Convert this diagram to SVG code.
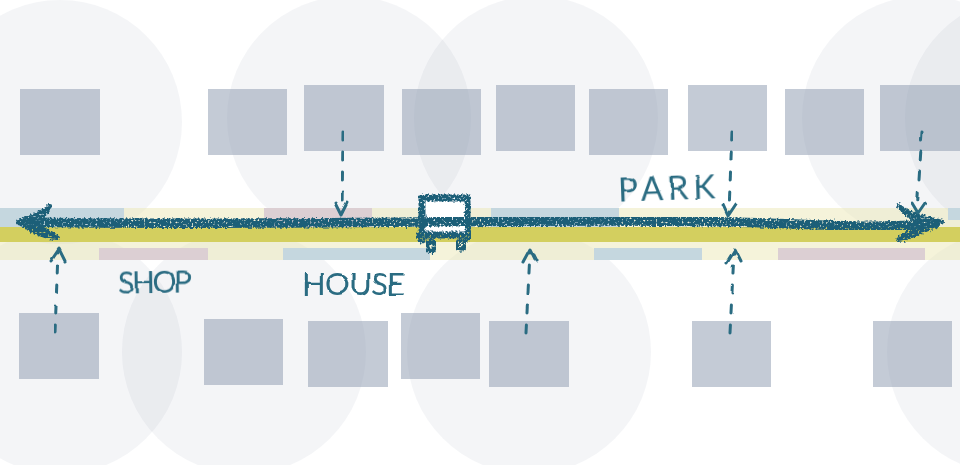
<svg xmlns="http://www.w3.org/2000/svg" width="960" height="465" viewBox="0 0 960 465">
<style>
.zone{fill:#8f9aa8;fill-opacity:.095}
.lot{fill:#8d9bb0;fill-opacity:.52}
.y{fill:#e9e6b0;fill-opacity:.47}
.b{fill:#c5d7df}
.p{fill:#dccfd3}
.crayon{fill:none;stroke:#1f5f78;stroke-linecap:round;stroke-linejoin:round;filter:url(#rough)}
.blade{fill:#1f5f78;stroke:#1f5f78;stroke-width:4;stroke-linejoin:round;filter:url(#rough)}
.dash{fill:none;stroke:#2b6c82;stroke-width:3;stroke-linecap:round;stroke-linejoin:round;filter:url(#wob)}
.lab{font-family:Lato,"Liberation Sans",sans-serif;font-weight:400;fill:#2b6c82;filter:url(#wob)}
</style>
<defs>
<filter id="rough" x="-5%" y="-60%" width="110%" height="220%">
<feTurbulence type="fractalNoise" baseFrequency=".5" numOctaves="3" seed="4" result="n"/>
<feDisplacementMap in="SourceGraphic" in2="n" scale="6" xChannelSelector="R" yChannelSelector="G" result="d"/>
<feColorMatrix in="n" type="matrix" values="0 0 0 0 0 0 0 0 0 0 0 0 0 0 0 0 0 0 6 -1.4" result="m"/>
<feComposite in="d" in2="m" operator="in" result="c"/>
<feGaussianBlur in="c" stdDeviation=".45"/>
</filter>
<filter id="wob" x="-30%" y="-30%" width="160%" height="160%">
<feTurbulence type="fractalNoise" baseFrequency=".07" numOctaves="2" seed="7"/>
<feDisplacementMap in="SourceGraphic" scale="3" xChannelSelector="R" yChannelSelector="G"/>
</filter>
</defs>
<rect width="960" height="465" fill="#fff"/>
<g id="zones">
<circle class="zone" cx="60" cy="122" r="122"/>
<circle class="zone" cx="349" cy="118" r="122"/>
<circle class="zone" cx="536" cy="118" r="122"/>
<circle class="zone" cx="924" cy="118" r="122"/>
<circle class="zone" cx="1027" cy="118" r="122"/>
<circle class="zone" cx="60" cy="352" r="122"/>
<circle class="zone" cx="244" cy="352" r="122"/>
<circle class="zone" cx="529" cy="352" r="122"/>
<circle class="zone" cx="1009" cy="352" r="122"/>
</g>
<g id="street">
<rect class="y" y="208" width="960" height="52"/>
<rect x="0" y="208" width="124" height="19" class="b"/>
<rect x="264" y="208" width="108" height="19" class="p"/>
<rect x="491" y="208" width="128" height="19" class="b"/>
<rect x="948" y="208" width="12" height="12" class="b"/>
<rect x="99" y="248" width="109" height="12" class="p"/>
<rect x="283" y="248" width="147" height="12" class="b"/>
<rect x="594" y="248" width="108" height="12" class="b"/>
<rect x="778" y="248" width="147" height="12" class="p"/>
<rect y="227" width="960" height="15" fill="#d3cf5f"/>
</g>
<g id="lot-top-1"><rect class="lot" x="20" y="89" width="80" height="66"/></g>
<g id="lot-top-2"><rect class="lot" x="208" y="89" width="79" height="66"/></g>
<g id="lot-top-3"><rect class="lot" x="304" y="85" width="80" height="66"/></g>
<g id="lot-top-4"><rect class="lot" x="402" y="89" width="79" height="66"/></g>
<g id="lot-top-5"><rect class="lot" x="496" y="85" width="79" height="66"/></g>
<g id="lot-top-6"><rect class="lot" x="589" y="89" width="79" height="66"/></g>
<g id="lot-top-7"><rect class="lot" x="688" y="85" width="79" height="66"/></g>
<g id="lot-top-8"><rect class="lot" x="785" y="89" width="79" height="66"/></g>
<g id="lot-top-9"><rect class="lot" x="880" y="85" width="80" height="66"/></g>
<g id="lot-bottom-1"><rect class="lot" x="19" y="313" width="80" height="66"/></g>
<g id="lot-bottom-2"><rect class="lot" x="204" y="319" width="79" height="66"/></g>
<g id="lot-bottom-3"><rect class="lot" x="308" y="321" width="80" height="66"/></g>
<g id="lot-bottom-4"><rect class="lot" x="401" y="313" width="79" height="66"/></g>
<g id="lot-bottom-5"><rect class="lot" x="489" y="321" width="80" height="66"/></g>
<g id="lot-bottom-6"><rect class="lot" x="692" y="321" width="79" height="66"/></g>
<g id="lot-bottom-7"><rect class="lot" x="873" y="321" width="79" height="66"/></g>
<g id="vehicle">
<rect x="422" y="198" width="46" height="36" fill="#fff"/>
<path class="crayon" stroke-width="7" d="M422 198H468V238M422 198V240M419 235H466"/>
<circle class="crayon" cx="431" cy="246" r="4.5" stroke-width="5.5"/>
<circle class="crayon" cx="461" cy="245" r="4" stroke-width="5.5"/>
</g>
<g id="connectors">
<path class="crayon" stroke-width="9.5" d="M24 222C120 224 300 223 420 222S640 220 730 222S860 229 935 224"/>
<path class="blade" d="M50 206C42 214 30 217 18 222C28 229 42 238 58 238C52 232 42 229 32 223C40 219 48 214 50 206Z"/>
<path class="blade" d="M898 205C910 216 930 218 942 222C930 228 912 238 898 240C904 232 916 230 924 224C914 219 902 214 898 205Z"/>
<path class="dash" stroke-dasharray="8 12" d="M343 132L342 212"/>
<path class="dash" d="M335 203L341 215L347 203"/>
<path class="dash" stroke-dasharray="8 12" d="M732 132L729 212"/>
<path class="dash" d="M723 205L728 216L736 204"/>
<path class="dash" stroke-dasharray="8 12" d="M922 132L917 212"/>
<path class="dash" d="M912 203L918 213L925 203"/>
<path class="dash" stroke-dasharray="8 12" d="M55 333L58 252"/>
<path class="dash" d="M51 261L59 249L65 261"/>
<path class="dash" stroke-dasharray="8 12" d="M526 333L530 252"/>
<path class="dash" d="M523 262L530 249L536 261"/>
<path class="dash" stroke-dasharray="8 12" d="M730 333L734 252"/>
<path class="dash" d="M727 262L735 249L741 261"/>
</g>
<g id="labels">
<text class="lab" x="118" y="293" font-size="30" textLength="74" transform="rotate(-1 155 282)">SHOP</text>
<text class="lab" x="302" y="295" font-size="31" textLength="103">HOUSE</text>
<text class="lab" x="618" y="200" font-size="33" textLength="97" transform="rotate(-2 666 187)">PARK</text>
</g>
</svg>
